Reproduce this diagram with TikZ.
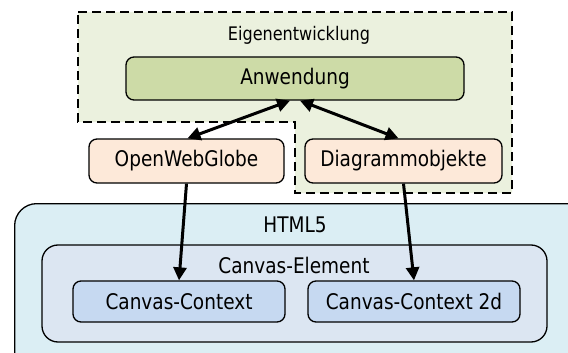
\documentclass[tikz,border=0pt]{standalone}
\usepackage{fontspec}
\setmainfont{DejaVu Sans}[FakeStretch=0.86]
\usetikzlibrary{arrows.meta}
\definecolor{eigfill}{RGB}{235,241,222}
\definecolor{anwfill}{RGB}{205,219,167}
\definecolor{peach}{RGB}{253,233,217}
\definecolor{htmlfill}{RGB}{219,238,244}
\definecolor{elemfill}{RGB}{220,230,242}
\definecolor{ctxfill}{RGB}{198,217,241}
\tikzset{
  box/.style={draw=black, line width=1.3pt, rounded corners=8pt, inner sep=0pt,
    font=\fontsize{21.5}{25}\selectfont},
  conn/.style={line width=3pt, -{Triangle[length=13pt,width=13pt]}},
  biconn/.style={line width=3pt, {Triangle[length=13pt,width=13pt]}-{Triangle[length=13pt,width=13pt]}},
  lbl/.style={font=\fontsize{21.5}{25}\selectfont, inner sep=0pt}
}
\begin{document}
\begin{tikzpicture}[x=1pt,y=-1pt]
\useasboundingbox (0,0) rectangle (568,353);
\clip (0,0) rectangle (568,353);
% Eigenentwicklung region
\draw[fill=eigfill, line width=1.5pt, dash pattern=on 9pt off 5pt]
  (78,12) -- (512,12) -- (512,193) -- (295,193) -- (295,122) -- (78,122) -- cycle;
\node[lbl, font=\fontsize{18.7}{22}\selectfont] (eig) at (299,35) {Eigenentwicklung};
% HTML5
\node[box, rounded corners=22pt, fill=htmlfill, minimum width=600pt, minimum height=200pt, anchor=north west] (html) at (14,203) {};
\node[lbl] (htmllbl) at (295,225) {HTML5};
\node[box, rounded corners=16pt, fill=elemfill, minimum width=505pt, minimum height=97pt] (elem) at (294.5,293.5) {};
\node[lbl] (elemlbl) at (294,265) {Canvas-Element};
% boxes
\node[box, fill=anwfill, minimum width=338pt, minimum height=43pt] (anw) at (295,78.5) {Anwendung};
\node[box, fill=peach, minimum width=195pt, minimum height=44pt] (owg) at (186.5,161) {OpenWebGlobe};
\node[box, fill=peach, minimum width=197pt, minimum height=44pt] (dia) at (403.5,161) {Diagrammobjekte};
\node[box, fill=ctxfill, minimum width=212pt, minimum height=41pt] (cc) at (179,301.5) {Canvas-Context};
\node[box, fill=ctxfill, minimum width=212pt, minimum height=41pt] (cc2) at (414,301.5) {Canvas-Context 2d};
% connectors
\draw[biconn] ([xshift=-5pt]anw.south) -- ([xshift=1pt]owg.north);
\draw[biconn] ([xshift=5pt]anw.south) -- ([xshift=-5pt]dia.north);
\draw[conn] (owg.south) -- (cc.north);
\draw[conn] (dia.south) -- (cc2.north);
\end{tikzpicture}
\end{document}
